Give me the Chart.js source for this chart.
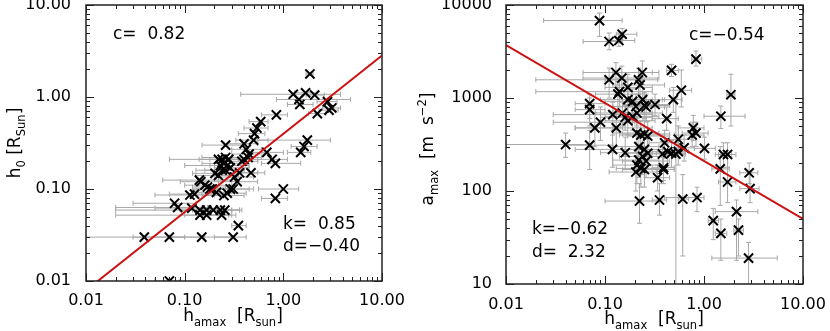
<!doctype html>
<html>
  <head>
    <meta charset="utf-8">
    <title>h0 and amax versus h_amax</title>
    <style>
      html, body {
        margin: 0;
        background: #fff;
        font-family: "DejaVu Sans", sans-serif;
      }
      #wrap { position: relative; width: 830px; height: 331px; }
      .panel { position: absolute; top: 0; width: 415px; height: 331px; }
    </style>
  </head>
  <body>
    <div id="wrap">
      <div class="panel" style="left:0"><canvas id="left"></canvas></div>
      <div class="panel" style="left:415px"><canvas id="right"></canvas></div>
    </div>

    <script src="https://cdn.jsdelivr.net/npm/chart.js@4/dist/chart.umd.min.js"></script>
    <script>
      // ---- data ----
      var xTicks = [0.01, 0.1, 1, 10]
      var xTickLabels = ['0.01', '0.10', '1.00', '10.00']
      var leftYTicks = [0.01, 0.1, 1, 10]
      var leftYTickLabels = ['0.01', '0.10', '1.00', '10.00']
      var rightYTicks = [10, 100, 1000, 10000]
      var rightYTickLabels = ['10', '100', '1000', '10000']

      // left panel: h0 vs h_amax (horizontal error bars only)
      var leftX = [1.86,1.26,1.68,2.08,1.44,1.47,2.80,2.90,3.10,2.21, 0.85,0.59,0.54,0.51,0.50,1.75,1.62,1.50,0.26,0.40,
        0.42,0.45,0.40,0.68,0.77,0.83,0.47,1.00,0.83,0.35, 0.31,0.149,0.070,0.039,0.070,0.079,0.085,0.113,0.126,0.141,
        0.146,0.160,0.170,0.180,0.118,0.143,0.143,0.167,0.167,0.195, 0.230,0.237,0.255,0.203,0.22,0.24,0.26,0.28,0.23,0.25,
        0.27,0.24,0.26,0.29,0.22,0.32,0.34,0.31,0.29,0.27, 0.25,0.21,0.19,0.36,0.38,0.44]
      var leftY = [1.78,1.07,1.11,1.05,0.94,0.83,0.89,0.72,0.76,0.66, 0.64,0.54,0.46,0.40,0.34,0.34,0.29,0.25,0.30,0.31,
        0.27,0.24,0.21,0.25,0.21,0.19,0.15,0.10,0.079,0.040, 0.030,0.030,0.030,0.030,0.010,0.070,0.063,0.086,0.088,0.125,
        0.120,0.110,0.105,0.100,0.062,0.059,0.052,0.059,0.052,0.059, 0.059,0.052,0.059,0.148,0.21,0.21,0.22,0.21,0.18,0.19,
        0.18,0.16,0.16,0.17,0.14,0.135,0.12,0.10,0.10,0.09, 0.085,0.092,0.10,0.15,0.20,0.22]
      var leftXLo = [1.7,0.37,1.3,1.7,0.85,1.1,2.2,2.3,2.5,1.8, 0.6,0.45,0.4,0.35,0.33,0.55,1.2,1.1,0.15,0.25,
        0.3,0.3,0.28,0.45,0.55,0.6,0.35,0.56,0.6,0.3, 0.2,0.07,0.03,0.01,0.05,0.03,0.02,0.05,0.07,0.06,
        0.09,0.1,0.12,0.12,0.05,0.02,0.02,0.09,0.1,0.12, 0.15,0.15,0.17,0.12,0.07,0.14,0.15,0.18,0.1,0.15,
        0.18,0.13,0.16,0.2,0.13,0.2,0.22,0.2,0.18,0.17, 0.15,0.13,0.12,0.25,0.26,0.3]
      var leftXHi = [2.0,3.8,2.2,2.6,4.8,2.0,3.5,3.6,3.8,2.7, 1.1,0.7,0.7,0.65,0.7,3.0,2.2,1.9,0.42,0.55,
        0.6,0.7,0.55,1.0,1.1,1.5,0.65,1.43,1.1,0.42, 0.42,0.30,0.16,0.10,0.09,0.13,0.17,0.2,0.25,0.3,
        0.22,0.3,0.26,0.3,0.25,0.36,0.3,0.3,0.28,0.3, 0.36,0.33,0.38,0.32,0.35,0.4,0.45,0.42,0.38,0.42,
        0.45,0.38,0.4,0.45,0.35,0.5,0.55,0.5,0.45,0.42, 0.4,0.32,0.3,0.55,0.55,0.6]

      // right panel: amax vs h_amax (both error bars)
      var rightX = [0.088,0.11,0.138,0.149,0.83,0.47,1.87,1.48,0.59,0.49, 0.129,0.11,0.148,0.238,0.218,0.226,0.14,0.135,0.17,0.17,
        0.19,0.205,0.24,0.25,0.26,0.32,0.070,0.070,0.12,0.090, 0.079,0.13,0.15,0.16,0.17,0.19,0.21,0.42,0.78,0.83,
        0.76,1.01,0.040,0.070,0.119,0.160,0.21,0.23,0.25,0.27, 0.22,0.25,0.27,0.24,0.22,0.26,0.21,0.23,0.25,0.205,
        0.34,0.39,0.39,0.38,0.43,0.47,0.52,0.55,0.40,0.55, 0.63,1.46,1.57,1.73,1.73,2.86,2.92,0.223,0.355,0.61,
        0.85,1.24,1.48,2.13,2.23,2.82]
      var rightY = [6800,4050,4150,4850,2620,1980,1085,637,1210,960, 1880,1570,1640,1880,1570,1380,1170,1100,1300,960,
        920,810,960,830,800,850,870,750,663,549, 477,477,690,620,570,630,690,600,477,420,
        400,287,316,311,280,258,420,400,410,390, 300,280,255,235,215,210,190,175,170,160,
        139,178,170,250,265,255,250,265,330,360, 291,173,247,247,125,157,106,78,80,82,
        85,48,35,60,38,19]
      var rightXLo = [0.024,0.06,0.11,0.13,0.75,0.42,1.7,1.0,0.45,0.38, 0.06,0.02,0.06,0.12,0.1,0.12,0.02,0.08,0.1,0.09,
        0.1,0.12,0.15,0.15,0.16,0.22,0.05,0.05,0.03,0.03, 0.05,0.05,0.08,0.09,0.1,0.1,0.12,0.3,0.55,0.6,
        0.5,0.8,0.01,0.04,0.05,0.09,0.12,0.14,0.15,0.17, 0.12,0.15,0.16,0.14,0.12,0.15,0.12,0.13,0.15,0.11,
        0.25,0.3,0.3,0.25,0.3,0.33,0.4,0.45,0.28,0.4, 0.5,1.2,1.3,1.4,1.4,2.3,2.3,0.1,0.3,0.55,
        0.4,1.1,1.3,1.3,2.0,1.2]
      var rightXHi = [0.149,0.15,0.2,0.21,0.95,0.55,2.05,2.6,0.75,0.6, 0.3,0.25,0.35,0.35,0.34,0.4,0.3,0.25,0.3,0.3,
        0.35,0.35,0.4,0.45,0.4,0.45,0.1,0.1,0.3,0.2, 0.15,0.3,0.3,0.3,0.32,0.35,0.38,0.55,1.0,1.1,
        1.0,1.3,0.07,0.12,0.25,0.3,0.35,0.4,0.45,0.45, 0.35,0.4,0.45,0.4,0.35,0.45,0.35,0.38,0.4,0.33,
        0.45,0.5,0.5,0.55,0.6,0.65,0.65,0.7,0.55,0.75, 0.8,1.8,1.9,2.1,2.1,3.5,3.6,0.35,0.42,0.7,
        1.0,1.4,1.7,3.5,2.5,5.5]
      var rightYLo = [4600,3300,3600,4200,2200,1700,500,470,800,700, 1300,1000,1200,1400,1100,1000,800,750,900,700,
        650,550,700,600,550,650,600,500,450,350, 300,300,500,450,400,450,500,450,350,300,
        300,220,230,170,180,170,300,280,280,260, 200,190,170,150,140,140,120,110,110,100,
        100,130,120,180,190,180,5,190,240,260, 210,70,180,180,75,120,75,45,55,20,
        60,30,18,18,20,10]
      var rightYHi = [8200,5000,5000,5600,3200,2300,1800,820,2000,1300, 2400,2100,2200,2500,2100,1900,1600,1500,1800,1300,
        1250,1100,1300,1150,1100,1100,1100,1000,900,800, 700,700,900,850,800,850,900,800,650,550,
        550,380,420,450,400,380,600,560,580,560, 420,400,360,330,300,300,270,250,250,240,
        190,240,230,340,360,350,1000,360,450,500, 400,300,330,330,250,200,160,120,120,150,
        110,65,50,80,50,28]

      // fit lines (log y = k log x + d), end points
      var leftFitX = [0.01, 10]
      var leftFitY = [0.0079, 2.82]
      var rightFitX = [0.01, 10]
      var rightFitY = [3700, 50]

      var FONT = '"DejaVu Sans", sans-serif'

      var toPoints = function(xs, ys) {
        return xs.map(function(x, i) { return {x: x, y: ys[i]} })
      }

      // text with sub/superscripts, centred on (cx, cy)
      var drawRich = function(ctx, parts, cx, cy, rot, size) {
        ctx.save()
        ctx.translate(cx, cy)
        ctx.rotate(rot)
        ctx.fillStyle = '#000'
        ctx.textBaseline = 'alphabetic'
        ctx.textAlign = 'left'
        var total = 0
        parts.forEach(function(p) {
          ctx.font = (p.s ? size * 0.68 : size) + 'px ' + FONT
          p.w = ctx.measureText(p.t).width
          total += p.w
        })
        var x = -total / 2
        var base = size * 0.3
        parts.forEach(function(p) {
          ctx.font = (p.s ? size * 0.68 : size) + 'px ' + FONT
          var dy = p.s == 'sub' ? size * 0.3 : (p.s == 'sup' ? -size * 0.42 : 0)
          ctx.fillText(p.t, x, base + dy)
          x += p.w
        })
        ctx.restore()
      }

      // minor + major tick values of a log axis
      var logTickValues = function(min, max) {
        var out = []
        var e0 = Math.round(Math.log10(min)), e1 = Math.round(Math.log10(max))
        for (var e = e0; e <= e1; e++) {
          for (var m = 1; m <= 9; m++) {
            var v = m * Math.pow(10, e)
            if (v >= min * 0.999 && v <= max * 1.001) out.push({v: v, major: m == 1})
          }
        }
        return out
      }

      var makeDecor = function(cfg) {
        return {
          id: 'decor',
          beforeDatasetsDraw: function(chart) {
            var ctx = chart.ctx, a = chart.chartArea
            var sx = chart.scales.x, sy = chart.scales.y
            ctx.save()
            ctx.beginPath()
            ctx.rect(a.left, a.top, a.right - a.left, a.bottom - a.top)
            ctx.clip()
            ctx.strokeStyle = '#a8a8a8'
            ctx.lineWidth = 1
            var cap = 2.5
            cfg.xs.forEach(function(x, i) {
              var px = sx.getPixelForValue(x), py = sy.getPixelForValue(cfg.ys[i])
              var x0 = sx.getPixelForValue(cfg.xlo[i]), x1 = sx.getPixelForValue(cfg.xhi[i])
              ctx.beginPath()
              ctx.moveTo(x0, py); ctx.lineTo(x1, py)
              ctx.moveTo(x0, py - cap); ctx.lineTo(x0, py + cap)
              ctx.moveTo(x1, py - cap); ctx.lineTo(x1, py + cap)
              if (cfg.ylo) {
                var y0 = sy.getPixelForValue(cfg.ylo[i]), y1 = sy.getPixelForValue(cfg.yhi[i])
                ctx.moveTo(px, y0); ctx.lineTo(px, y1)
                ctx.moveTo(px - cap, y0); ctx.lineTo(px + cap, y0)
                ctx.moveTo(px - cap, y1); ctx.lineTo(px + cap, y1)
              }
              ctx.stroke()
            })
            ctx.restore()
          },
          afterDraw: function(chart) {
            var ctx = chart.ctx, a = chart.chartArea
            var sx = chart.scales.x, sy = chart.scales.y
            ctx.save()
            ctx.strokeStyle = '#222'
            ctx.lineWidth = 1
            ctx.beginPath()
            logTickValues(cfg.xMin, cfg.xMax).forEach(function(t) {
              var p = Math.round(sx.getPixelForValue(t.v)) + 0.5
              var len = t.major ? 8 : 4
              ctx.moveTo(p, a.bottom); ctx.lineTo(p, a.bottom - len)
              ctx.moveTo(p, a.top); ctx.lineTo(p, a.top + len)
            })
            logTickValues(cfg.yMin, cfg.yMax).forEach(function(t) {
              var p = Math.round(sy.getPixelForValue(t.v)) + 0.5
              var len = t.major ? 8 : 4
              ctx.moveTo(a.left, p); ctx.lineTo(a.left + len, p)
              ctx.moveTo(a.right, p); ctx.lineTo(a.right - len, p)
            })
            ctx.stroke()
            ctx.lineWidth = 1.5
            ctx.strokeRect(a.left, a.top, a.right - a.left, a.bottom - a.top)

            ctx.fillStyle = '#000'
            ctx.font = '17px ' + FONT
            ctx.textBaseline = 'middle'
            ctx.textAlign = 'left'
            cfg.notes.forEach(function(n) { ctx.fillText(n[0], n[1], n[2]) })
            ctx.restore()

            drawRich(ctx, cfg.yTitle, cfg.yTitlePos[0], cfg.yTitlePos[1], -Math.PI / 2, 17)
            drawRich(ctx, cfg.xTitle, cfg.xTitlePos[0], cfg.xTitlePos[1], 0, 17)
          }
        }
      }

      var makeChart = function(id, o) {
        var ctx = document.getElementById(id).getContext('2d')
        o.decor.xMin = xTicks[0]
        o.decor.xMax = xTicks[xTicks.length - 1]
        o.decor.yMin = o.yTicks[0]
        o.decor.yMax = o.yTicks[o.yTicks.length - 1]
        return new Chart(ctx, {
          type: 'scatter',
          data: {
            datasets: [
              {
                data: toPoints(o.fitX, o.fitY),
                showLine: true,
                borderColor: '#cc1111',
                borderWidth: 2,
                pointRadius: 0,
                order: 0
              },
              {
                data: toPoints(o.xs, o.ys),
                pointStyle: 'crossRot',
                pointRadius: 6.5,
                borderWidth: 2,
                borderColor: '#000',
                backgroundColor: '#000',
                order: 1
              }
            ]
          },
          options: {
            responsive: true,
            maintainAspectRatio: false,
            animation: false,
            devicePixelRatio: 1,
            layout: { autoPadding: false, padding: { top: 5, right: o.padRight, left: 0, bottom: 0 } },
            plugins: { legend: { display: false }, tooltip: { enabled: false } },
            scales: {
              x: {
                type: 'logarithmic',
                min: xTicks[0],
                max: xTicks[xTicks.length - 1],
                grid: { display: false },
                border: { display: false },
                afterBuildTicks: function(s) { s.ticks = xTicks.map(function(v) { return {value: v} }) },
                afterFit: function(s) { s.height = o.xAxisH; s.paddingLeft = 0; s.paddingRight = 0 },
                ticks: {
                  autoSkip: false,
                  maxRotation: 0,
                  padding: o.xPad,
                  color: '#000',
                  font: { family: FONT, size: 16 },
                  callback: function(v, i) { return xTickLabels[i] }
                }
              },
              y: {
                type: 'logarithmic',
                min: o.yTicks[0],
                max: o.yTicks[o.yTicks.length - 1],
                grid: { display: false },
                border: { display: false },
                afterBuildTicks: function(s) { s.ticks = o.yTicks.map(function(v) { return {value: v} }) },
                afterFit: function(s) { s.width = o.yAxisW; s.paddingTop = 0; s.paddingBottom = 0 },
                ticks: {
                  autoSkip: false,
                  padding: o.yPad,
                  color: '#000',
                  font: { family: FONT, size: 16 },
                  callback: function(v, i) { return o.yTickLabels[i] }
                }
              }
            }
          },
          plugins: [makeDecor(o.decor)]
        })
      }

      makeChart('left', {
        xs: leftX, ys: leftY, fitX: leftFitX, fitY: leftFitY,
        yTicks: leftYTicks, yTickLabels: leftYTickLabels,
        padRight: 33, xAxisH: 50, yAxisW: 86, yPad: 7, xPad: 2,
        decor: {
          xs: leftX, ys: leftY, xlo: leftXLo, xhi: leftXHi,
          notes: [['c=  0.82', 113, 35], ['k=  0.85', 283, 225], ['d=\u22120.40', 283, 247]],
          yTitle: [{t: 'h'}, {t: '0', s: 'sub'}, {t: ' [R'}, {t: 'Sun', s: 'sub'}, {t: ']'}],
          yTitlePos: [15, 143],
          xTitle: [{t: 'h'}, {t: 'amax', s: 'sub'}, {t: '  [R'}, {t: 'sun', s: 'sub'}, {t: ']'}],
          xTitlePos: [233, 316]
        }
      })

      makeChart('right', {
        xs: rightX, ys: rightY, fitX: rightFitX, fitY: rightFitY,
        yTicks: rightYTicks, yTickLabels: rightYTickLabels,
        padRight: 27, xAxisH: 47, yAxisW: 91, yPad: 6, xPad: 3,
        decor: {
          xs: rightX, ys: rightY, xlo: rightXLo, xhi: rightXHi, ylo: rightYLo, yhi: rightYHi,
          notes: [['c=\u22120.54', 274, 36], ['k=\u22120.62', 117, 230], ['d=  2.32', 117, 253]],
          yTitle: [{t: 'a'}, {t: 'max', s: 'sub'}, {t: '  [m  s'}, {t: '\u22122', s: 'sup'}, {t: ']'}],
          yTitlePos: [13, 149],
          xTitle: [{t: 'h'}, {t: 'amax', s: 'sub'}, {t: '  [R'}, {t: 'sun', s: 'sub'}, {t: ']'}],
          xTitlePos: [239, 319]
        }
      })
    </script>
  </body>
</html>
